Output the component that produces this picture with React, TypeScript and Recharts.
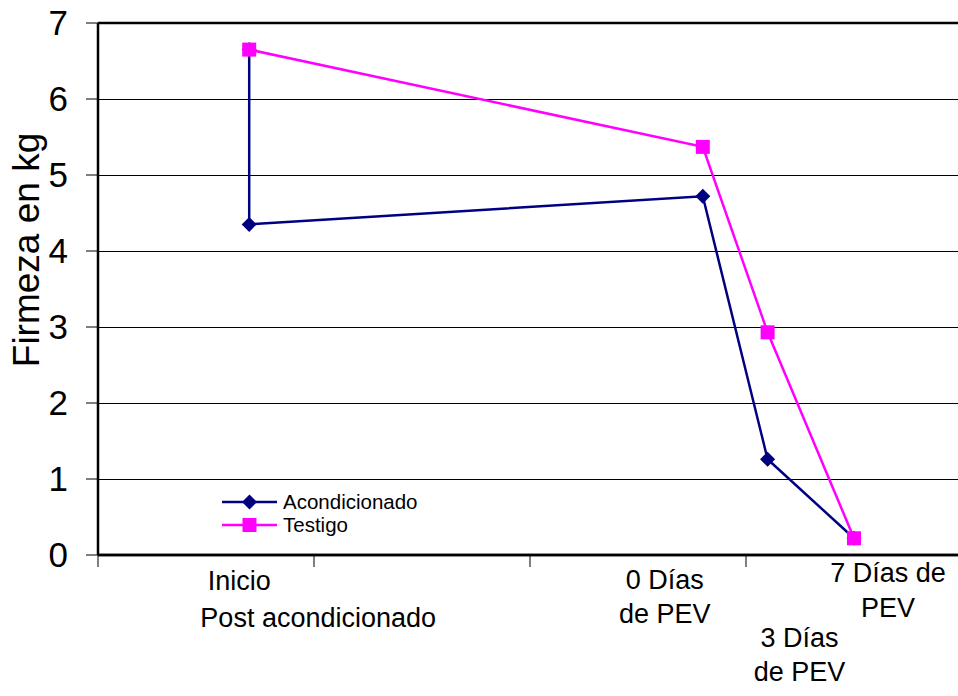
import { ComposedChart, Line, XAxis, YAxis, CartesianGrid, ReferenceLine, Legend } from 'recharts';

const FONT = '"Liberation Sans", Arial, Helvetica, sans-serif';

// Firmness readings (kg) at each sampling stage
const acondicionadoX = [0.7, 0.7, 2.8, 3.1, 3.5];
const acondicionadoY = [6.65, 4.35, 4.72, 1.26, 0.22];
const testigoX = [0.7, 2.8, 3.1, 3.5];
const testigoY = [6.65, 5.37, 2.93, 0.22];

const yTicks = [0, 1, 2, 3, 4, 5, 6, 7];
const xTicks = [0, 1, 2, 3, 4];

// Stage captions, anchored to the x of each stage
const stageX = [0.7, 2.8, 3.1, 3.5];
const stageLabels = [
  ['Inicio', 'Post acondicionado'],
  ['0 Días', 'de PEV'],
  ['3 Días', 'de PEV'],
  ['7 Días de', 'PEV'],
];

// per-line offsets (dx, baseline dy from the plot floor) of the caption text boxes
const LABEL_LAYOUT = [
  [{ dx: -10, dy: 35 }, { dx: 69, dy: 72 }],
  [{ dx: -38, dy: 34 }, { dx: -38, dy: 68 }],
  [{ dx: 32, dy: 92 }, { dx: 32, dy: 126 }],
  [{ dx: 34, dy: 27 }, { dx: 34, dy: 62 }],
];

const PLOT_TOP = 23;
const PLOT_BOTTOM = 555;

const BLUE = '#000080';
const MAGENTA = '#FF00FF';

const acondicionado = acondicionadoX.map((x, i) => ({ x, y: acondicionadoY[i] }));
const testigo = testigoX.map((x, i) => ({ x, y: testigoY[i] }));

const SERIES = [
  { name: 'Acondicionado', color: BLUE, marker: 'diamond' },
  { name: 'Testigo', color: MAGENTA, marker: 'square' },
];

function diamondPath(cx: number, cy: number, r: number) {
  return `M${cx},${cy - r}L${cx + r},${cy}L${cx},${cy + r}L${cx - r},${cy}Z`;
}

const renderDiamond = (props: any) => {
  const { cx, cy, index } = props;
  return <path key={`dia-${index}`} d={diamondPath(cx, cy, 7.5)} fill={BLUE} />;
};

const renderSquare = (props: any) => {
  const { cx, cy, index } = props;
  return <rect key={`sq-${index}`} x={cx - 7} y={cy - 7} width={14} height={14} fill={MAGENTA} />;
};

function StageTick(props: any) {
  const { x, payload } = props;
  const idx = stageX.indexOf(payload.value);
  if (idx < 0) return null;
  return (
    <g>
      {stageLabels[idx].map((line, j) => (
        <text
          key={j}
          x={x + LABEL_LAYOUT[idx][j].dx}
          y={PLOT_BOTTOM + LABEL_LAYOUT[idx][j].dy}
          textAnchor="middle"
          fontSize={27}
          fontFamily={FONT}
          fill="#000"
        >
          {line}
        </text>
      ))}
    </g>
  );
}

function SeriesLegend() {
  return (
    <div style={{ fontFamily: FONT, fontSize: 20.5, color: '#000' }}>
      {SERIES.map((s) => (
        <div key={s.name} style={{ display: 'flex', alignItems: 'center', height: 22.5 }}>
          <svg width={56} height={18} style={{ display: 'block' }}>
            <line x1={0} y1={9} x2={55} y2={9} stroke={s.color} strokeWidth={2.5} />
            {s.marker === 'diamond' ? (
              <path d={diamondPath(27.5, 9, 7.5)} fill={s.color} />
            ) : (
              <rect x={20.5} y={2} width={14} height={14} fill={s.color} />
            )}
          </svg>
          <span style={{ marginLeft: 5, lineHeight: '22px' }}>{s.name}</span>
        </div>
      ))}
    </div>
  );
}

function YTitle(props: any) {
  const { viewBox } = props;
  const tx = viewBox.x + 39;
  const ty = viewBox.y + 227;
  return (
    <text
      x={tx}
      y={ty}
      transform={`rotate(-90, ${tx}, ${ty})`}
      textAnchor="middle"
      fontSize={37}
      fontFamily={FONT}
      fill="#000"
    >
      Firmeza en kg
    </text>
  );
}

export default function App() {
  return (
    <div style={{ position: 'absolute', left: 0, top: 0, width: 958, height: 696, overflow: 'hidden', background: '#fff' }}>
      <ComposedChart width={980} height={696} margin={{ top: PLOT_TOP, right: 18, bottom: 0, left: 0 }}>
        <CartesianGrid vertical={false} stroke="#000" strokeWidth={1} shapeRendering="crispEdges" />
        <XAxis
          xAxisId="main"
          dataKey="x"
          type="number"
          domain={[0, 4]}
          ticks={xTicks}
          interval={0}
          allowDataOverflow
          height={12}
          tickSize={12}
          tickFormatter={() => ''}
          stroke="#000"
          axisLine={{ stroke: '#000', strokeWidth: 2.5 }}
          tickLine={{ stroke: '#000', strokeWidth: 1 }}
        />
        <XAxis
          xAxisId="stage"
          dataKey="x"
          type="number"
          domain={[0, 4]}
          ticks={stageX}
          interval={0}
          allowDataOverflow
          height={129}
          tickSize={0}
          tickMargin={0}
          axisLine={false}
          tickLine={false}
          tick={<StageTick />}
        />
        <YAxis
          type="number"
          domain={[0, 7]}
          ticks={yTicks}
          interval={0}
          width={98}
          tickSize={12}
          tickMargin={18}
          stroke="#000"
          axisLine={{ stroke: '#000', strokeWidth: 2 }}
          tickLine={{ stroke: '#000', strokeWidth: 1 }}
          tick={{ fill: '#000', fontSize: 35, fontFamily: FONT }}
          label={<YTitle />}
        />
        {/* frame: top border and heavier axis lines */}
        <ReferenceLine xAxisId="main" y={7} stroke="#000" strokeWidth={2.5} />
        <ReferenceLine xAxisId="main" y={0} stroke="#000" strokeWidth={2.5} />
        <ReferenceLine xAxisId="main" x={0} stroke="#000" strokeWidth={2.5} />
        <Legend
          layout="vertical"
          align="center"
          verticalAlign="middle"
          content={<SeriesLegend />}
          wrapperStyle={{ position: 'absolute', left: 222, top: 491, width: 'auto', height: 'auto' }}
        />
        <Line
          xAxisId="main"
          data={acondicionado}
          dataKey="y"
          name="Acondicionado"
          type="linear"
          stroke={BLUE}
          strokeWidth={2.5}
          dot={renderDiamond}
          activeDot={false}
          isAnimationActive={false}
        />
        <Line
          xAxisId="main"
          data={testigo}
          dataKey="y"
          name="Testigo"
          type="linear"
          stroke={MAGENTA}
          strokeWidth={2.5}
          dot={renderSquare}
          activeDot={false}
          isAnimationActive={false}
        />
      </ComposedChart>
    </div>
  );
}
